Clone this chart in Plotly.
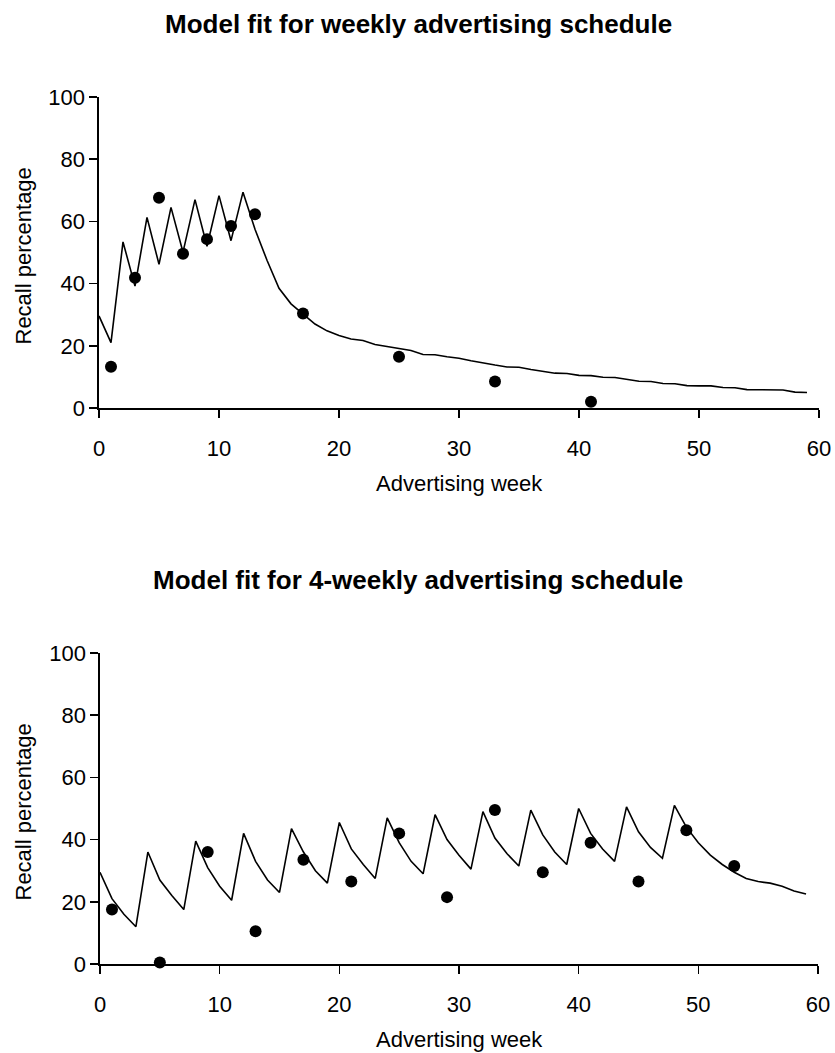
import plotly.graph_objects as go

# ---- Data ----
weeks = list(range(0, 60))

# Weekly schedule: model fit (line)
weekly_model = [29.6, 21.0, 53.4, 39.2, 61.3, 46.2, 64.5, 50.1, 67.0, 52.0,
                68.3, 53.8, 69.4, 57.5, 47.5, 38.5, 33.5, 30.2, 27.0, 24.8,
                23.3, 22.2, 21.7, 20.4, 19.8, 19.2, 18.5, 17.2, 17.1, 16.5,
                16.0, 15.2, 14.4, 13.8, 13.2, 13.1, 12.4, 11.8, 11.2, 11.1,
                10.5, 10.4, 9.9, 9.8, 9.2, 8.6, 8.5, 7.9, 7.8, 7.2,
                7.1, 7.1, 6.6, 6.5, 5.9, 5.8, 5.8, 5.8, 5.1, 5.0]
# Weekly schedule: observed recall
weekly_obs_weeks = [1, 3, 5, 7, 9, 11, 13, 17, 25, 33, 41]
weekly_obs = [13.3, 41.9, 67.6, 49.6, 54.3, 58.5, 62.3, 30.4, 16.5, 8.5, 2.0]

# 4-weekly schedule: model fit (line)
fourweekly_model = [29.5, 21.0, 16.0, 12.0, 36.0, 27.0, 22.0, 17.5, 39.5, 31.0,
                    25.0, 20.5, 42.0, 33.0, 27.0, 23.0, 43.5, 36.0, 30.0, 26.0,
                    45.5, 37.0, 32.0, 27.5, 47.0, 39.0, 33.0, 29.0, 48.0, 40.0,
                    35.0, 30.5, 49.0, 40.5, 35.5, 31.5, 49.5, 41.5, 36.0, 32.0,
                    50.0, 42.0, 37.0, 33.0, 50.5, 42.5, 37.5, 34.0, 51.0, 44.0,
                    39.0, 35.0, 32.0, 29.5, 27.5, 26.5, 26.0, 25.0, 23.5, 22.5]
fourweekly_obs_weeks = [1, 5, 9, 13, 17, 21, 25, 29, 33, 37, 41, 45, 49, 53]
fourweekly_obs = [17.5, 0.5, 36.0, 10.5, 33.5, 26.5, 42.0, 21.5, 49.5, 29.5,
                  39.0, 26.5, 43.0, 31.5]

x_ticks = [0, 10, 20, 30, 40, 50, 60]
y_ticks = [0, 20, 40, 60, 80, 100]

titles = ["Model fit for weekly advertising schedule",
          "Model fit for 4-weekly advertising schedule"]
x_title = "Advertising week"
y_title = "Recall percentage"

W, H = 835, 1053
FONT = "Liberation Sans, Arial, sans-serif"

fig = go.Figure()

panels = [
    dict(model=weekly_model, ow=weekly_obs_weeks, ov=weekly_obs,
         xa="x", ya="y", px=(99, 819), py=(97, 408), title_y=24, xt_y=483),
    dict(model=fourweekly_model, ow=fourweekly_obs_weeks, ov=fourweekly_obs,
         xa="x2", ya="y2", px=(100, 818), py=(653, 964), title_y=580, xt_y=1039),
]

layout_axes = {}
annotations = []
for i, p in enumerate(panels):
    fig.add_trace(go.Scatter(x=weeks, y=p["model"], mode="lines",
                             line=dict(color="black", width=1.6),
                             xaxis=p["xa"], yaxis=p["ya"], showlegend=False,
                             cliponaxis=False, hoverinfo="skip"))
    fig.add_trace(go.Scatter(x=p["ow"], y=p["ov"], mode="markers",
                             marker=dict(color="black", size=12),
                             xaxis=p["xa"], yaxis=p["ya"], showlegend=False,
                             cliponaxis=False, hoverinfo="skip"))
    sfx = "" if i == 0 else "2"
    axcommon = dict(showgrid=False, zeroline=False, showline=True,
                    linecolor="black", linewidth=1.6, ticks="outside",
                    ticklen=8, tickwidth=1.6, tickcolor="black",
                    automargin=False, fixedrange=True,
                    tickfont=dict(family=FONT, size=22, color="black"))
    layout_axes["xaxis" + sfx] = dict(
        domain=[p["px"][0] / W, p["px"][1] / W], range=[0, 60],
        tickvals=x_ticks, anchor="y" + sfx, ticklabelstandoff=12, **axcommon)
    layout_axes["yaxis" + sfx] = dict(
        domain=[1 - p["py"][1] / H, 1 - p["py"][0] / H], range=[0, 100],
        tickvals=y_ticks, anchor="x" + sfx, **axcommon)
    cx = (p["px"][0] + p["px"][1]) / 2
    annotations.append(dict(text="<b>" + titles[i] + "</b>", xref="paper",
                            yref="paper", x=418 / W, y=1 - p["title_y"] / H,
                            xanchor="center", yanchor="middle", showarrow=False,
                            font=dict(family=FONT, size=26, color="black")))
    annotations.append(dict(text=x_title, xref="paper", yref="paper",
                            x=cx / W, y=1 - p["xt_y"] / H, xanchor="center",
                            yanchor="middle", showarrow=False,
                            font=dict(family=FONT, size=22, color="black")))
    annotations.append(dict(text=y_title, xref="paper", yref="paper",
                            x=23 / W, y=1 - ((p["py"][0] + p["py"][1]) / 2 + 4) / H,
                            xanchor="center", yanchor="middle", textangle=-90,
                            showarrow=False,
                            font=dict(family=FONT, size=22, color="black")))

fig.update_layout(width=W, height=H, margin=dict(l=0, r=0, t=0, b=0),
                  paper_bgcolor="white", plot_bgcolor="white",
                  hovermode=False, annotations=annotations, **layout_axes)

fig.write_html("out.html", config={"displayModeBar": False, "staticPlot": True},
               post_script="document.body.style.margin='0px';"
                           "document.documentElement.style.overflow='hidden';")
